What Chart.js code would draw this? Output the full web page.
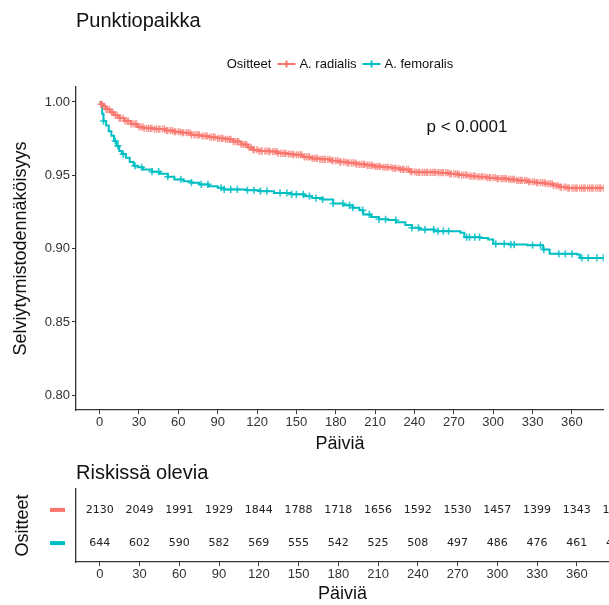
<!DOCTYPE html>
<html>
<head>
<meta charset="utf-8">
<script src="https://cdn.jsdelivr.net/npm/chart.js@4.4.0/dist/chart.umd.min.js"></script>
<style>
  html, body { margin: 0; padding: 0; background: #ffffff; }
  #wrap { position: relative; width: 609px; height: 605px; overflow: hidden; }
  .box { position: absolute; left: 0; width: 609px; }
</style>
</head>
<body>
<div id="wrap">
  <div class="box" style="top:0;height:455px"><canvas id="km" width="609" height="455"></canvas></div>
  <div class="box" style="top:450px;height:155px"><canvas id="risk" width="609" height="155"></canvas></div>
</div>
<script>
// Kaplan-Meier estimates by puncture site (days, survival probability)
const radialisTime = [0, 1, 3, 5, 8, 11, 15, 19, 24, 29, 34, 42, 50, 57, 63, 70, 77, 83, 90, 96,
  102, 108, 113, 117, 121, 130, 136, 143, 148, 155, 162, 168, 176, 183, 189, 196, 203, 209, 216, 223,
  229, 236, 241, 258, 266, 274, 281, 288, 295, 303, 311, 318, 326, 333, 340, 346, 351, 356];
const radialisSurv = [1.0, 0.9984, 0.997, 0.995, 0.993, 0.991, 0.989, 0.987, 0.985, 0.983, 0.982, 0.9815, 0.9805, 0.9797, 0.979, 0.9775, 0.9768, 0.976, 0.9752, 0.9745,
  0.973, 0.971, 0.969, 0.9675, 0.9665, 0.9662, 0.965, 0.9645, 0.964, 0.9625, 0.9615, 0.9609, 0.960, 0.9592, 0.9585, 0.9575, 0.9568, 0.956, 0.9555, 0.9548,
  0.954, 0.9525, 0.952, 0.9518, 0.951, 0.9502, 0.9494, 0.949, 0.9484, 0.9478, 0.9472, 0.9465, 0.9456, 0.945, 0.9443, 0.943, 0.942, 0.9413];

const femoralisTime = [0, 1, 2, 3, 5, 7, 9, 11, 13, 15, 17, 20, 23, 26, 29, 33, 40, 46, 52, 57,
  64, 70, 76, 83, 90, 95, 112, 122, 133, 146, 156, 162, 170, 178, 186, 193, 198, 201, 207, 213,
  220, 226, 233, 238, 244, 255, 275, 278, 290, 296, 300, 312, 326, 338, 343, 364, 366];
const femoralisSurv = [1.0, 0.9985, 0.992, 0.987, 0.984, 0.980, 0.977, 0.9734, 0.970, 0.9665, 0.9645, 0.962, 0.959, 0.9565, 0.9555, 0.954, 0.9525, 0.951, 0.949, 0.9472,
  0.946, 0.945, 0.9438, 0.9426, 0.9415, 0.9404, 0.9398, 0.9392, 0.938, 0.937, 0.9358, 0.9345, 0.9335, 0.9308, 0.9295, 0.9279, 0.9262, 0.9233, 0.9216, 0.920,
  0.9195, 0.918, 0.9162, 0.9142, 0.913, 0.9119, 0.9108, 0.9078, 0.9072, 0.9062, 0.9033, 0.9028, 0.9023, 0.8994, 0.8965, 0.896, 0.8937];

// Censoring times (+ marks)
const radialisCensor = [1, 2, 3.5, 5, 6, 7.5, 9, 10, 12, 13.5, 15, 16, 18, 19.5, 21, 22, 24, 25.5, 27, 28,
  30, 31.5, 33, 34, 36, 37.5, 39, 40, 42, 43.5, 45, 46, 48, 49.5, 51, 52, 54, 55.5, 57, 58,
  60, 61.5, 63, 64, 66, 67.5, 69, 70, 72, 73.5, 75, 76, 78, 79.5, 81, 82, 84, 85.5, 87, 88,
  90, 91.5, 93, 94, 96, 97.5, 99, 100, 102, 103.5, 105, 106, 108, 109.5, 111, 112, 114, 115.5, 117, 118,
  120, 121.5, 123, 124, 126, 127.5, 129, 130, 132, 133.5, 135, 136, 138, 139.5, 141, 142, 144, 145.5, 147, 148,
  150, 151.5, 153, 154, 156, 157.5, 159, 160, 162, 163.5, 165, 166, 168, 169.5, 171, 172, 174, 175.5, 177, 178,
  180, 181.5, 183, 184, 186, 187.5, 189, 190, 192, 193.5, 195, 196, 198, 199.5, 201, 202, 204, 205.5, 207, 208,
  210, 211.5, 213, 214, 216, 217.5, 219, 220, 222, 223.5, 225, 226, 228, 229.5, 231, 232, 234, 235.5, 237, 238,
  240, 241.5, 243, 244, 246, 247.5, 249, 250, 252, 253.5, 255, 256, 258, 259.5, 261, 262, 264, 265.5, 267, 268,
  270, 271.5, 273, 274, 276, 277.5, 279, 280, 282, 283.5, 285, 286, 288, 289.5, 291, 292, 294, 295.5, 297, 298,
  300, 301.5, 303, 304, 306, 307.5, 309, 310, 312, 313.5, 315, 316, 318, 319.5, 321, 322, 324, 325.5, 327, 328,
  330, 331.5, 333, 334, 336, 337.5, 339, 340, 342, 343.5, 345, 346, 348, 349.5, 351, 352, 354, 355.5, 357, 358,
  360, 361.5, 363, 364, 366, 367.5, 369, 370, 372, 373.5, 375, 376, 378, 379.5, 381, 382, 384];
const femoralisCensor = [3, 12, 14, 18, 27, 32, 40, 45, 52, 62, 70, 77.5, 82.6, 92.6, 95, 100, 105, 112.7, 117.7, 122.6,
  127.5, 137.6, 142.7, 146.4, 150, 155.2, 160, 165, 170, 178, 185.5, 190.5, 193, 200.5, 205.6, 213, 218, 225.7, 238, 243,
  248, 254.6, 258, 262, 266, 279.8, 282, 286, 289.6, 302, 308.4, 313.5, 316, 330, 336, 338.6, 350, 355, 360, 367.5,
  372.5, 379, 384];

// Number at risk
const riskDays = [0, 30, 60, 90, 120, 150, 180, 210, 240, 270, 300, 330, 360, 390];
const riskRadialis = [2130, 2049, 1991, 1929, 1844, 1788, 1718, 1656, 1592, 1530, 1457, 1399, 1343, 1286];
const riskFemoralis = [644, 602, 590, 582, 569, 555, 542, 525, 508, 497, 486, 476, 461, 448];

const xTicks = [0, 30, 60, 90, 120, 150, 180, 210, 240, 270, 300, 330, 360];
const yTicks = [0.80, 0.85, 0.90, 0.95, 1.00];

const groupNames = ['A. radialis', 'A. femoralis'];
const RED = '#F8766D';
const CYAN = '#00BFC4';
const FONT = "'Liberation Sans', Arial, Helvetica, sans-serif";
const AXIS = '#333333';

function survAt(times, surv, t) {
  let v = surv[0];
  for (let i = 0; i < times.length; i++) { if (times[i] <= t) v = surv[i]; }
  return v;
}
function curve(times, surv, censor) {
  const pts = times.map((t, i) => ({ x: t, y: surv[i] }));
  const end = censor[censor.length - 1];
  pts.push({ x: end, y: surv[surv.length - 1] });
  return pts;
}
function marks(times, surv, censor) {
  return censor.map(t => ({ x: t, y: survAt(times, surv, t) }));
}

const X_MIN = -17.96, X_MAX = 384.3;

function xScale(extra) {
  return Object.assign({
    type: 'linear', min: X_MIN, max: X_MAX,
    afterBuildTicks: s => { s.ticks = xTicks.map(v => ({ value: v })); },
    ticks: { color: AXIS, font: { family: FONT, size: 13 }, padding: 1, maxRotation: 0, autoSkip: false,
      callback: v => String(v) },
    grid: { display: true, drawOnChartArea: false, drawTicks: true, tickLength: 4, tickColor: AXIS, tickWidth: 1 },
    border: { display: true, color: AXIS, width: 1.3 },
    title: { display: true, text: 'Päiviä', color: '#111', font: { family: FONT, size: 18 }, padding: { top: 3, bottom: 0 } }
  }, extra || {});
}

// Title, legend and p-value text
const kmText = {
  id: 'kmText',
  afterDraw(chart) {
    const { ctx, chartArea, scales } = chart;
    ctx.save();
    ctx.fillStyle = '#111';
    ctx.textBaseline = 'middle';
    ctx.textAlign = 'left';
    ctx.font = `20px ${FONT}`;
    ctx.fillText('Punktiopaikka', chartArea.left, 21);

    // legend
    ctx.font = `13px ${FONT}`;
    const title = 'Ositteet';
    const key = 18, gap = 4, itemGap = 6;
    const wTitle = ctx.measureText(title).width;
    const widths = groupNames.map(n => ctx.measureText(n).width);
    const total = wTitle + itemGap + widths.reduce((a, w) => a + key + gap + w, 0) + itemGap * (groupNames.length - 1);
    let x = (chartArea.left + chartArea.right) / 2 - total / 2;
    const y = 64;
    ctx.fillStyle = '#111';
    ctx.fillText(title, x, y);
    x += wTitle + itemGap;
    [RED, CYAN].forEach((c, i) => {
      ctx.strokeStyle = c;
      ctx.lineWidth = 2;
      ctx.beginPath(); ctx.moveTo(x, y); ctx.lineTo(x + key, y); ctx.stroke();
      ctx.beginPath(); ctx.moveTo(x + key / 2, y - 3.5); ctx.lineTo(x + key / 2, y + 3.5); ctx.stroke();
      x += key + gap;
      ctx.fillStyle = '#111';
      ctx.fillText(groupNames[i], x, y);
      x += widths[i] + itemGap;
    });

    // log-rank p-value
    ctx.font = `17px ${FONT}`;
    ctx.textAlign = 'center';
    ctx.fillText('p < 0.0001', scales.x.getPixelForValue(280), scales.y.getPixelForValue(0.983));
    ctx.restore();
  }
};

new Chart(document.getElementById('km'), {
  type: 'line',
  data: {
    datasets: [
      { data: curve(radialisTime, radialisSurv, radialisCensor), borderColor: RED, borderWidth: 2,
        stepped: 'before', pointRadius: 0, fill: false },
      { data: marks(radialisTime, radialisSurv, radialisCensor), borderColor: 'rgba(248,118,109,0.75)', showLine: false,
        pointStyle: 'cross', pointRadius: 3.6, pointBorderWidth: 1.5, pointHoverRadius: 0 },
      { data: curve(femoralisTime, femoralisSurv, femoralisCensor), borderColor: CYAN, borderWidth: 2,
        stepped: 'before', pointRadius: 0, fill: false },
      { data: marks(femoralisTime, femoralisSurv, femoralisCensor), borderColor: 'rgba(0,191,196,0.85)', showLine: false,
        pointStyle: 'cross', pointRadius: 3.6, pointBorderWidth: 1.6, pointHoverRadius: 0 }
    ]
  },
  options: {
    responsive: false, animation: false, devicePixelRatio: 1,
    layout: { padding: { top: 87, left: 0, right: 0, bottom: 0 } },
    plugins: { legend: { display: false }, tooltip: { enabled: false }, title: { display: false } },
    scales: {
      x: xScale({ afterFit: s => { s.height = 45; } }),
      y: {
        type: 'linear', min: 0.79, max: 1.0102,
        afterBuildTicks: s => { s.ticks = yTicks.map(v => ({ value: v })); },
        afterFit: s => { s.width = 76; },
        ticks: { color: AXIS, font: { family: FONT, size: 13 }, padding: 2, callback: v => Number(v).toFixed(2) },
        grid: { display: true, drawOnChartArea: false, drawTicks: true, tickLength: 4, tickColor: AXIS, tickWidth: 1 },
        border: { display: true, color: AXIS, width: 1.3 },
        title: { display: true, text: 'Selviytymistodennäköisyys', color: '#111', font: { family: FONT, size: 18 },
          padding: { top: 10, bottom: 0 } }
      }
    }
  },
  plugins: [kmText]
});

// Risk table: numbers at risk drawn at the time points of the x scale
const riskRows = [riskRadialis, riskFemoralis];
const riskText = {
  id: 'riskText',
  afterDraw(chart) {
    const { ctx, chartArea, scales } = chart;
    ctx.save();
    ctx.fillStyle = '#111';
    ctx.textBaseline = 'middle';
    ctx.textAlign = 'left';
    ctx.font = `20px ${FONT}`;
    ctx.fillText('Riskissä olevia', chartArea.left, 23);

    ctx.font = `11px 'DejaVu Sans', sans-serif`;
    ctx.textAlign = 'center';
    ctx.fillStyle = '#222';
    riskRows.forEach((row, r) => {
      const py = scales.y.getPixelForValue(2 - r) + 1;
      row.forEach((n, i) => ctx.fillText(String(n), scales.x.getPixelForValue(riskDays[i]), py));
    });

    [RED, CYAN].forEach((c, r) => {
      const py = scales.y.getPixelForValue(2 - r) + 1;
      ctx.fillStyle = c;
      ctx.fillRect(chartArea.left - 26, py - 2, 15, 4);
    });
    ctx.restore();
  }
};

new Chart(document.getElementById('risk'), {
  type: 'scatter',
  data: { datasets: [{ data: [], pointRadius: 0 }] },
  options: {
    responsive: false, animation: false, devicePixelRatio: 1,
    layout: { padding: { top: 39, left: 0, right: 0, bottom: 0 } },
    plugins: { legend: { display: false }, tooltip: { enabled: false } },
    scales: {
      x: xScale({ afterFit: s => { s.height = 43; }, title: { display: true, text: 'Päiviä', color: '#111',
        font: { family: FONT, size: 18 }, padding: { top: 2, bottom: 0 } } }),
      y: {
        type: 'linear', min: 0.4, max: 2.6,
        afterBuildTicks: s => { s.ticks = []; },
        afterFit: s => { s.width = 76; },
        ticks: { display: false },
        grid: { display: false },
        border: { display: true, color: AXIS, width: 1.3 },
        title: { display: true, text: 'Ositteet', color: '#111', font: { family: FONT, size: 18 },
          padding: { top: 12, bottom: 0 } }
      }
    }
  },
  plugins: [riskText]
});
</script>
</body>
</html>
